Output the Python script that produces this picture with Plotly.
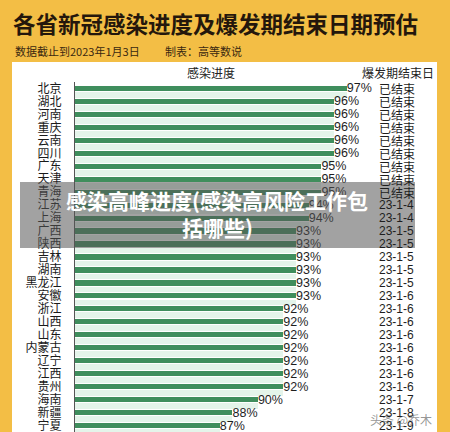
import plotly.graph_objects as go

# ---------------- data ----------------
provinces = ["北京", "湖北", "河南", "重庆", "云南", "四川", "广东", "天津", "青海",
             "江苏", "上海", "广西", "陕西", "吉林", "湖南", "黑龙江", "安徽",
             "浙江", "山西", "山东", "内蒙古", "辽宁", "江西", "贵州", "海南",
             "新疆", "宁夏"]
progress = [97, 96, 96, 96, 96, 96, 95, 95, 95,
            94, 94, 93, 93, 93, 93, 93, 93,
            92, 92, 92, 92, 92, 92, 92, 90,
            88, 87]
end_dates = ["已结束"] * 9 + ["23-1-4", "23-1-4",
             "23-1-5", "23-1-5", "23-1-5", "23-1-5", "23-1-5",
             "23-1-6", "23-1-6", "23-1-6", "23-1-6", "23-1-6", "23-1-6", "23-1-6", "23-1-6",
             "23-1-7", "23-1-8", "23-1-9"]
progress_labels = [f"{v}%" for v in progress]

title_text = "各省新冠感染进度及爆发期结束日期预估"
sub_left = "数据截止到2023年1月3日"
sub_right = "制表：高等数说"
col_head_1 = "感染进度"
col_head_2 = "爆发期结束日"
overlay_line1 = "感染高峰进度(感染高风险工作包"
overlay_line2 = "括哪些)"
watermark = "头条 @乔木"

# ---------------- layout helpers ----------------
W, H = 450, 432
L, R, T, B = 75, 10, 82, 0
PW, PH = W - L - R, H - T - B


def px2x(px):
    return (px - L) / PW


def py2y(py):
    return (H - B - py) / PH


CJK = "Noto Sans CJK SC"
LAT = "Liberation Sans"
BG = "#F3BE45"
GREEN = "#3F8E5D"
MINT = "#E4F4EA"

fig = go.Figure()

# light tint bands between bars
fig.add_trace(go.Bar(
    y=provinces, x=progress, orientation="h",
    marker=dict(color=MINT, line=dict(width=0)),
    width=0.44, offset=0.28, hoverinfo="skip", showlegend=False,
))
# main bars
fig.add_trace(go.Bar(
    y=provinces, x=progress, orientation="h",
    marker=dict(color=GREEN, line=dict(width=0)),
    width=0.40, offset=-0.20,
    text=progress_labels, textposition="outside", constraintext="none",
    textfont=dict(family=LAT, size=12.5, color="#1e1e1e"),
    cliponaxis=False, showlegend=False,
))

annotations = []
# end-date column
for p, d in zip(provinces, end_dates):
    annotations.append(dict(
        x=px2x(377), xref="paper", y=p, yref="y", text=d, showarrow=False,
        xanchor="left", yanchor="middle",
        font=dict(family=LAT if d[0].isdigit() else CJK, size=12, color="#1e1e1e"),
    ))

# title and subtitle
annotations += [
    dict(x=px2x(11), y=py2y(23), xref="paper", yref="paper", text=f"<b>{title_text}</b>",
         showarrow=False, xanchor="left", yanchor="middle",
         font=dict(family=CJK, size=22.5, color="#24170c")),
    dict(x=px2x(13), y=py2y(51), xref="paper", yref="paper", text=sub_left,
         showarrow=False, xanchor="left", yanchor="middle",
         font=dict(family=CJK, size=11, color="#3a2810")),
    dict(x=px2x(163), y=py2y(51), xref="paper", yref="paper", text=sub_right,
         showarrow=False, xanchor="left", yanchor="middle",
         font=dict(family=CJK, size=11, color="#3a2810")),
    dict(x=px2x(211), y=py2y(72), xref="paper", yref="paper", text=col_head_1,
         showarrow=False, xanchor="center", yanchor="middle",
         font=dict(family=CJK, size=12, color="#222")),
    dict(x=px2x(398), y=py2y(72), xref="paper", yref="paper", text=col_head_2,
         showarrow=False, xanchor="center", yanchor="middle",
         font=dict(family=CJK, size=12, color="#222")),
    dict(x=px2x(217), y=py2y(200), xref="paper", yref="paper", text=f"<b>{overlay_line1}</b>",
         showarrow=False, xanchor="center", yanchor="middle",
         font=dict(family=CJK, size=21, color="#ffffff")),
    dict(x=px2x(217), y=py2y(227), xref="paper", yref="paper", text=f"<b>{overlay_line2}</b>",
         showarrow=False, xanchor="center", yanchor="middle",
         font=dict(family=CJK, size=21, color="#ffffff")),
    dict(x=px2x(368), y=py2y(419), xref="paper", yref="paper", text=watermark,
         showarrow=False, xanchor="left", yanchor="middle",
         font=dict(family=CJK, size=12, color="rgba(60,60,60,0.55)")),
]

shapes = [
    # white panel
    dict(type="rect", xref="paper", yref="paper", layer="below",
         x0=px2x(12), x1=px2x(437), y0=py2y(440), y1=py2y(62),
         fillcolor="#ffffff", line=dict(width=0)),
    # grey caption overlay
    dict(type="rect", xref="paper", yref="paper", layer="above",
         x0=px2x(20), x1=px2x(415), y0=py2y(248), y1=py2y(182),
         fillcolor="rgba(85,85,85,0.55)", line=dict(width=0)),
]

fig.update_layout(
    width=W, height=H,
    margin=dict(l=L, r=R, t=T, b=B, pad=0),
    paper_bgcolor=BG, plot_bgcolor="rgba(0,0,0,0)",
    barmode="overlay", bargap=0,
    showlegend=False,
    annotations=annotations, shapes=shapes,
    xaxis=dict(range=[75.6, 75.6 + PW / 12.7], visible=False, fixedrange=True),
    yaxis=dict(
        type="category", categoryorder="array", categoryarray=provinces,
        range=[len(provinces) - 0.5, -0.5],
        tickmode="array", tickvals=provinces, ticktext=provinces,
        showline=True, linecolor="#555", linewidth=1,
        showgrid=False, zeroline=False, ticks="",
        ticklabelstandoff=10,
        tickfont=dict(family=CJK, size=12, color="#1a1a1a"),
        fixedrange=True,
    ),
)

fig.write_html(
    "out.html",
    config={"displayModeBar": False, "staticPlot": True},
    post_script="document.body.style.margin='0';document.body.style.padding='0';",
)
